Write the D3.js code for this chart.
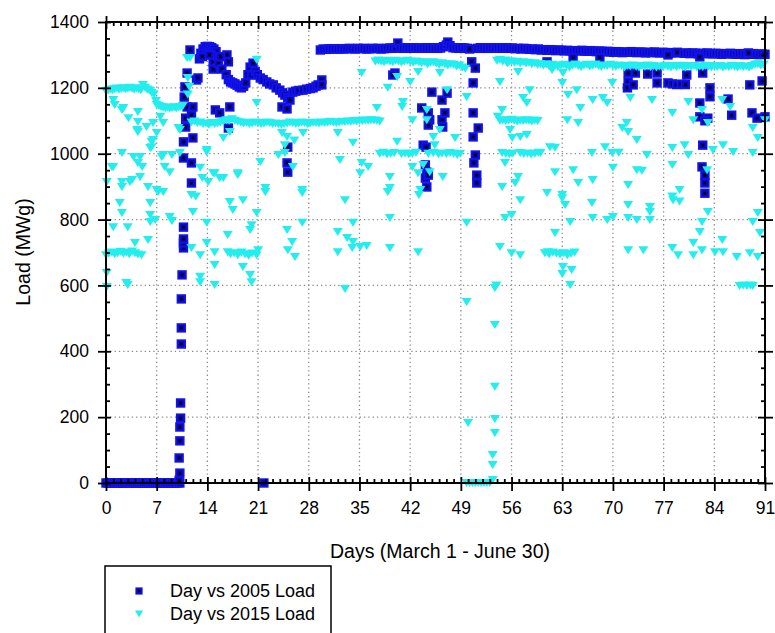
<!DOCTYPE html>
<html>
<head>
<meta charset="utf-8">
<script src="https://cdn.jsdelivr.net/npm/d3@7"></script>
<style>
  body { margin: 0; background: #fff; }
  text { font-family: Arial, "Liberation Sans", sans-serif; }
</style>
</head>
<body>
<div id="chart"></div>
<script>
const W = 775, H = 633;

// axis ticks
const xTicks = [0, 7, 14, 21, 28, 35, 42, 49, 56, 63, 70, 77, 84, 91];
const yTicks = [0, 200, 400, 600, 800, 1000, 1200, 1400];
const seriesNames = ["Day vs 2005 Load", "Day vs 2015 Load"];

// [day, load MWg]
const pts2005 = [
  [0,0],[0.3,0],[0.6,0],[0.9,0],[1.2,0],[1.5,0],[1.8,0],[2.1,0],[2.4,0],[2.7,0],[3,0],[3.3,0],[3.6,0],[3.9,0],
  [4.2,0],[4.5,0],[4.8,0],[5.1,0],[5.4,0],[5.7,0],[6,0],[6.3,0],[6.6,0],[6.9,0],[7.2,0],[7.5,0],[7.8,0],[8.1,0],
  [8.4,0],[8.7,0],[9,0],[9.3,0],[9.6,0],[9.9,0],[10.2,0],[10.1,8],[10.2,30],[10.1,76],[10.2,128],[10.2,170],
  [10.3,197],[10.3,243],[10.4,422],[10.4,471],[10.4,559],[10.5,632],[10.7,714],[10.7,729],[10.7,741],[10.7,777],
  [21.8,0],
  [10.7,1036],[10.7,987],[10.8,1172],[10.9,1203],[11,1108],[11,1081],[11.2,1142],[11.2,1245],[11.6,1315],
  [11.8,1117],[11.8,972],[11.8,911],[12,1142],[12,1048],[12.5,1224],[12.9,1288],[12.7,1230],
  [13.1,1305],[13.4,1318],[13.7,1325],[14,1326],[14.3,1325],[14.6,1322],[14.9,1318],[15.2,1310],[13.3,1295],
  [14.6,1300],[14.8,1279],[14.8,1257],[15.5,1275],[16,1257],[16.7,1300],[16.9,1279],[15.1,1133],[15.7,1124],
  [17.1,1142],[16.9,1078],[14.3,1300],[15.8,1295],
  [16.6,1240],[16.9,1225],[17.2,1218],[17.5,1215],[17.8,1212],[18.1,1208],[18.4,1203],[18.7,1200],[19,1205],
  [19.3,1215],[19.6,1240],[19.9,1263],[20.1,1239],[20.3,1275],[20.6,1250],[20.9,1240],[21.3,1230],[21.7,1225],
  [22.2,1218],[22.6,1212],[23.1,1209],[23.5,1200],[24,1193],[24.4,1185],[24.7,1178],[25.1,1170],[25.4,1163],
  [25.8,1187],[26.2,1190],[26.6,1192],[27.2,1193],[27.7,1196],[28.2,1198],[28.6,1200],[29,1205],[29.3,1209],
  [24.3,1142],[25,1136],[25.1,1020],[25,972],[25.1,944],
  [29.6,1315],[30,1318],[30.4,1317],[30.8,1318],[31.2,1319],[31.6,1318],[32,1318],[32.4,1319],[32.8,1318],
  [33.2,1319],[33.6,1320],[34,1319],[34.4,1318],[34.8,1320],[35.2,1319],[35.6,1320],[36,1318],[36.4,1319],
  [36.8,1320],[37.2,1319],[37.6,1320],[38,1318],[38.4,1319],[38.8,1320],[39.2,1321],[39.6,1320],[40,1322],
  [40.3,1336],[40.6,1321],[41,1320],[41.4,1322],[41.8,1321],[42.2,1320],[42.6,1322],[43,1321],[43.4,1320],
  [43.8,1321],[44.2,1322],[44.6,1320],[45,1321],[45.4,1322],[45.8,1320],[46.2,1321],[46.6,1325],[47,1330],
  [47.2,1339],[47.5,1328],[47.9,1322],[48.3,1321],[48.7,1320],[49.1,1322],[49.5,1321],[49.9,1320],[50.2,1318],
  [51.3,1320],[51.7,1322],[52.1,1321],[52.5,1320],[52.9,1322],[53.3,1321],[53.7,1320],[54.1,1322],[54.5,1321],
  [54.9,1320],[55.3,1322],[55.7,1320],[56.1,1321],[56.5,1319],[56.9,1320],[57.3,1318],[57.7,1320],[58.1,1319],
  [58.5,1317],[58.9,1318],[59.3,1316],[59.7,1318],[60.1,1315],[60.5,1316],[60.9,1314],[61.3,1316],[61.7,1315],
  [62.1,1313],[62.5,1315],[62.9,1314],[63.3,1312],[63.7,1314],[64.1,1313],[64.5,1311],[64.9,1313],[65.3,1312],
  [65.7,1314],[66.1,1312],[66.5,1311],[66.9,1313],[67.3,1312],[67.7,1310],[68.1,1312],[68.5,1311],[68.9,1309],
  [69.3,1311],[69.7,1310],[70.1,1308],[70.5,1310],[70.9,1309],[71.3,1307],[71.7,1309],[72.1,1308],[72.5,1310],
  [72.9,1308],[73.3,1307],[73.7,1309],[74.1,1308],[74.5,1306],[74.9,1308],[75.3,1307],[75.7,1309],[76.1,1307],
  [76.5,1306],[76.9,1308],[77.3,1307],[77.7,1305],[78.1,1307],[78.5,1306],[78.9,1308],
  [79.8,1305],[80.2,1306],[80.6,1304],[81,1306],[81.4,1305],[81.8,1303],[82.2,1305],[82.6,1304],[83,1306],
  [83.4,1304],[83.8,1303],[84.2,1305],[84.6,1304],[85,1302],[85.4,1304],[85.8,1303],[86.2,1305],[86.6,1303],
  [87,1302],[87.4,1304],[87.8,1303],[88.2,1301],[88.6,1303],[89,1302],[89.4,1304],[89.8,1302],[90.2,1301],
  [90.6,1303],[91,1302],
  [29.8,1224],[29.8,1209],[39.9,1245],[39.6,1239],[45,1187],[46.4,1163],[47.1,1184],[43.6,1139],[44.5,1124],
  [44.7,1103],[44.5,1087],[46.4,1103],[46.5,1081],[46.8,1124],[43.8,1026],[44.2,1020],[44.1,966],[44.3,944],
  [44.1,926],[44.3,899],[44.5,935],[50.5,1279],[51,1260],[50.7,1215],[50.7,1124],[51.4,1078],[50.7,1051],
  [51,996],[50.8,972],[51.2,935],[51.2,911],[60.9,1279],[64.5,1291],[68.2,1291],[72.1,1245],[73.1,1245],
  [72.1,1218],[72,1200],[72.8,1209],[74.8,1242],[76.1,1245],[76.1,1215],[77.6,1215],[78.2,1212],[78.8,1210],
  [79.4,1211],[80,1210],[80.2,1239],[82.4,1245],[83.4,1200],[83.4,1173],[82,1154],[82,1112],[83.1,1108],
  [82.7,1100],[85.9,1166],[86.4,1117],[82.4,1026],[82.3,960],[82.7,935],[82.7,911],[82.7,880],[88.9,1209],
  [90.6,1221],[89.2,1124],[89.9,1108],[91,1112],[77.6,1300],[82,1294],[88.7,1306]
];

const pts2015 = [
  [0,1190],[0.3,1192],[0.6,1195],[0.9,1193],[1.2,1196],[1.5,1198],[1.8,1195],[2.1,1197],[2.4,1199],[2.7,1196],
  [3,1198],[3.3,1200],[3.6,1197],[3.9,1195],[4.2,1199],[4.5,1196],[4.8,1193],[5.1,1209],[5.4,1200],[5.7,1195],
  [6,1192],[6.3,1185],[6.6,1180],[6.9,1160],
  [7,1148],[7.3,1145],[7.6,1142],[7.9,1140],[8.2,1138],[8.5,1140],[8.8,1137],[9.1,1139],[9.4,1141],[9.7,1138],
  [10,1140],[10.3,1142],[10.6,1145],
  [1.2,1148],[2.2,1133],[3.1,1108],[4.4,1096],[4.4,1066],[5.6,1081],[6.5,1093],[7,1063],[7.9,1093],[10,1078],
  [10.2,1072],[6.3,1036],[6.3,1020],[2.2,1002],[3.8,990],[4.4,972],[7.9,996],[9.1,996],[10.2,1002],[8.1,960],
  [8.8,944],[0.8,960],[0.1,914],[2.2,914],[3.6,920],[4.7,929],[5.8,899],[7.2,884],[7.9,884],[1,1163],[2.4,1139],
  [4.4,1127],[7.5,1112],[4.3,1072],[6.5,1042],[6.1,1017],[7.7,990],[4.7,990],[5,960],[3.3,914],[2.2,899],[7,890],
  [1,960],
  [1.9,850],[2.2,820],[6.1,850],[6.1,814],[6.8,799],[6.1,793],[8.8,808],[9.1,796],[1,777],[3,777],[4,729],
  [5.8,738],[0,692],[0.1,638],[0.1,595],[3,601],[2.8,607],[0.4,697],[0.8,700],[1.2,695],[1.6,698],[2,702],
  [2.4,697],[2.8,700],[3.2,695],[3.6,703],[4,698],[4.4,694],[4.9,692],
  [11.2,1291],[11.6,1291],[11.3,1230],[11.5,1203],[11.3,1180],[11.8,875],[12,823],[11.8,714],[13,692],[13,626],
  [13,610],[12.4,870],
  [11.8,1095],[12.2,1098],[12.6,1093],[13,1095],[13.4,1090],[13.8,1092],[14.2,1088],[14.6,1093],[15,1090],
  [15.4,1092],[15.8,1095],[16.2,1098],[16.6,1102],[17,1100],[17.4,1105],[17.8,1100],[18.2,1097],[18.6,1095],
  [19,1092],[19.4,1094],[19.8,1090],[20.2,1092],[20.6,1095],[21,1093],[21.4,1090],[21.8,1092],[22.2,1095],
  [22.6,1093],[23,1090],[23.4,1092],[23.8,1090],[24.2,1088],[24.6,1090],[25,1092],[25.4,1095],[25.8,1093],
  [26.2,1090],[26.6,1092],[27,1095],[27.4,1093],[27.8,1090],[28.2,1092],[28.6,1094],[29,1093],[29.4,1092],
  [29.8,1095],[30.2,1093],[30.6,1095],[31,1097],[31.4,1095],[31.8,1093],[32.2,1095],[32.6,1097],[33,1096],
  [33.4,1098],[33.8,1097],[34.2,1099],[34.6,1098],[35,1100],[35.4,1099],[35.8,1101],[36.2,1100],[36.6,1102],
  [37,1101],[37.4,1100],[37.8,1098],
  [13.9,1005],[13.3,926],[14.1,914],[14.8,941],[15.7,926],[16.2,1048],[17.1,1066],[18.2,941],[13,957],[13.9,1011],
  [15,941],[16.2,926],[18.2,935],[21.3,975],[20.8,1285],[20.8,1154],[24.3,1063],[25,1051],[24.7,1026],[27.2,1063],
  [27.1,890],[22,896],[24.7,1002],[23.8,996],[25.8,960],[26,1040],
  [13.9,790],[16.8,753],[13.9,729],[15,701],[15,662],[15,601],[16.8,701],[17.2,695],[17.7,698],[18.2,692],
  [18.7,700],[19.2,695],[19.7,690],[20.2,697],[20.8,692],[21,707],[18.9,656],[19.9,632],[20.1,610],[19.9,768],
  [20.1,783],[20.8,820],[18.9,859],[17.5,829],[17.1,853],[25,768],[25.7,732],[26.1,686],[25.1,707],[27.1,790],
  [27.1,881],[22,884],
  [32,1063],[34.1,1033],[35.3,972],[36.2,960],[32.3,981],[35.1,941],[33,859],[34.1,790],[32,762],[33.3,744],
  [34.1,732],[32,701],[34,714],[35.1,717],[36,720],[33,589],[35.3,1245],[37.4,1139],
  [37.2,1280],[37.6,1283],[38,1280],[38.4,1278],[38.8,1282],[39.2,1280],[39.6,1278],[40,1282],[40.4,1280],
  [40.8,1277],[41.2,1280],[41.6,1282],[42,1279],[42.4,1276],[42.8,1280],[43.2,1278],[43.6,1275],[44,1278],
  [44.4,1272],[44.8,1276],[45.2,1278],[45.6,1274],[46,1270],[46.4,1275],[46.8,1272],[47.2,1268],[47.6,1272],
  [48,1270],[48.4,1265],[48.8,1268],[49.2,1262],[49.6,1258],
  [38.9,1200],[40.2,1233],[42,1218],[43.1,1248],[41,1157],[40.9,1142],[40.2,1036],[42.3,960],[42.3,1102],
  [44.3,1133],[44.3,1102],[45.2,1051],[46.1,1072],[45.4,1026],[45.2,1002],[48.2,1048],[49.8,1172],[47.1,1193],
  [46.1,1245],[43.1,941],[43.4,890],[46.5,929],[43.8,966],[44.7,944],[39.2,929],[39.2,896],[38.9,884],[43.2,875],
  [39.2,805],[43.1,701],[39.2,714],[49.8,790],[49.8,550],[50,182],
  [37.8,1000],[38.3,1003],[38.8,998],[39.3,1000],[39.8,1002],[40.8,999],[41.3,1001],[41.8,998],[42.3,1000],
  [42.8,1003],[44.5,1000],[45.9,998],[46.4,1001],[47,999],[47.5,1002],[48,1000],[48.5,996],[48.9,1000],
  [49.8,0],[50.2,0],[50.6,0],[51,0],[51.4,0],[51.8,0],[52.2,0],[52.6,0],[53,0],[53.4,9],[53.4,55],[53.4,85],
  [53.7,152],[53.7,194],[53.7,292],[53.7,480],[53.7,592],[53.9,600],
  [54,1282],[54.4,1285],[54.8,1280],[55.2,1283],[55.6,1278],[56,1280],[56.4,1276],[56.8,1279],[57.2,1275],
  [57.6,1278],[58,1274],[58.4,1276],[58.8,1272],[59.2,1275],[59.6,1270],[60,1272],
  [55.4,1275],[54.4,1218],[56.9,1248],[58.5,1193],[57.6,1169],[58.1,1154],[54.1,1112],[54.7,1133],
  [54.4,1100],[54.8,1102],[55.2,1099],[55.6,1101],[56,1103],[56.4,1100],[56.8,1098],[57.2,1101],[57.6,1099],
  [58,1102],[58.4,1100],[58.8,1098],[59.2,1101],[59.6,1099],[55.8,1072],[57.2,1051],[58.1,1057],[56.1,1048],
  [54.7,1002],[55.2,1000],[55.7,998],[56.2,1001],[57.2,1002],[57.7,999],[58.2,1001],[58.7,998],[59.2,1000],
  [59.7,1003],[55.1,972],[56.9,929],[56.5,911],[54.7,899],[54.4,717],[55.1,805],[56,814],[56,698],[57.2,692],
  [57.2,859],
  [60.4,1268],[60.8,1272],[61.2,1265],[61.6,1270],[62,1267],[62.4,1263],[62.8,1268],[63.2,1270],[63.6,1266],
  [64,1262],[64.4,1268],[64.8,1271],[65.2,1266],[65.6,1263],[66,1268],[66.4,1270],[66.8,1265],[67.2,1268],
  [67.6,1271],[68,1266],[68.4,1263],[68.8,1268],[69.2,1266],[69.6,1270],[70,1267],[70.4,1264],[70.8,1268],
  [71.2,1266],[71.6,1262],[72,1267],[72.4,1265],[72.8,1268],[73.2,1264],[73.6,1262],[74,1266],[74.4,1264],
  [74.8,1268],[75.2,1263],[75.6,1266],[76,1262],[76.4,1265],[76.8,1263],[77.2,1267],[77.6,1264],[78,1262],
  [78.4,1266],[78.8,1263],[79.2,1267],[79.6,1264],[80,1262],[80.4,1266],[80.8,1263],[81.2,1266],[81.6,1262],
  [82,1265],[82.4,1263],[82.8,1267],[83.2,1264],[83.6,1262],[84,1266],[84.4,1263],[84.8,1266],[85.2,1262],
  [85.6,1265],[86,1263],[86.4,1267],[86.8,1264],[87.2,1262],[87.6,1266],[88,1263],[88.4,1265],[88.8,1262],
  [89.2,1266],[89.6,1270],[90,1272],[90.4,1268],[90.8,1270],
  [61.6,1254],[63.1,1245],[63,1215],[65,1193],[63.8,1178],[67.2,1163],[68.6,1169],[69.2,1154],[65.5,1139],
  [63.7,1102],[65.2,1093],[69.9,1215],[72.4,1169],[75.4,1163],[78.2,1124],[80.4,1157],[81.1,1102],[82.3,1133],
  [83.1,1093],[85.1,1163],[86.2,1142],[89.3,1078],[90,1048],[91,1102],[61.3,1020],[62,1018],[60,1002],
  [67.1,1002],[68.9,1020],[69.9,1002],[70.8,1003],[71.9,1093],[72.1,1066],[71.3,1078],[73.3,1042],[74.7,996],
  [78.2,1017],[79.9,1026],[80.4,996],[83,950],[83.8,1011],[85.2,1026],[86.6,1005],[89.3,1002],[62,944],
  [64.5,950],[65.2,911],[67.2,920],[70,957],[73.3,950],[74,948],[72.1,905],[78.2,966],[79.2,890],[63,875],
  [78.2,870],[60.9,881],[63,865],[63.4,844],[67.1,850],[72.1,844],[75.1,838],[75.1,823],[78.3,859],[79.2,855],
  [83.1,823],[90,820],[64.1,793],[67.2,805],[69.2,799],[70,808],[72.1,805],[73.3,799],[75.1,799],[82.3,793],
  [89.3,793],[62,759],[82,762],[90.3,759],[61,701],
  [60.6,698],[61.2,695],[61.7,700],[62.2,697],[62.7,694],[63.2,698],[63.7,692],[64.2,696],[64.7,700],
  [63.1,656],[64.3,647],[64.1,601],[63,635],[72.1,707],[74.2,707],[78.2,714],[79,692],[81.1,692],[81.1,729],
  [82.3,707],[84.1,701],[85.1,738],[85.2,701],[87.1,686],[88.9,698],[90,686],[87.5,598],[88,600],[88.5,598],
  [89,600],[89.3,598]
];

const svg = d3.select("#chart").append("svg")
  .attr("width", W)
  .attr("height", H);

const mLeft = 106, mRight = 765, mTop = 22, mBottom = 483;

const x = d3.scaleLinear().domain([0, 91]).range([mLeft, mRight]);
const y = d3.scaleLinear().domain([0, 1400]).range([mBottom, mTop]);

const xMinor = d3.range(0, 92).filter(d => d % 7 !== 0);
const yMinor = d3.range(0, 1401, 50).filter(d => d % 200 !== 0);

// dotted grid
svg.append("g")
  .selectAll("line")
  .data(xTicks.slice(1, -1))
  .join("line")
  .attr("x1", d => x(d)).attr("x2", d => x(d))
  .attr("y1", mTop).attr("y2", mBottom)
  .attr("stroke", "#8a8a8a").attr("stroke-width", 1.3)
  .attr("stroke-dasharray", "1.3,3");

svg.append("g")
  .selectAll("line")
  .data(yTicks.slice(1, -1))
  .join("line")
  .attr("x1", mLeft).attr("x2", mRight)
  .attr("y1", d => y(d)).attr("y2", d => y(d))
  .attr("stroke", "#8a8a8a").attr("stroke-width", 1.3)
  .attr("stroke-dasharray", "1.3,3");

// 2005 squares: each drawn whole (body + dark centre) so later ones cover earlier centres
const sq = svg.append("g")
  .selectAll("g")
  .data(pts2005)
  .join("g")
  .attr("transform", d => `translate(${x(d[0])},${y(d[1])})`);
sq.append("rect")
  .attr("x", -3.8).attr("y", -3.8)
  .attr("width", 7.6).attr("height", 7.6)
  .attr("fill", "#0a0aa8")
  .attr("stroke", "#1212f0")
  .attr("stroke-width", 1.8);
sq.append("rect")
  .attr("x", -1.3).attr("y", -1.3)
  .attr("width", 2.6).attr("height", 2.6)
  .attr("fill", "#000");

// 2015 triangles
const tri = "M-5,-4L5,-4L0,4Z";
svg.append("g")
  .selectAll("path")
  .data(pts2015)
  .join("path")
  .attr("d", tri)
  .attr("transform", d => `translate(${x(d[0])},${y(d[1])})`)
  .attr("fill", "#22eeee");

// axes
const fontSize = 17.5;
function styleAxis(g) {
  g.select(".domain").remove();
  g.selectAll(".tick line").attr("stroke", "#000").attr("stroke-width", 1.8);
  g.selectAll(".tick text").attr("font-size", fontSize).attr("fill", "#000")
    .attr("font-family", "Arial, 'Liberation Sans', sans-serif");
}

// bottom
svg.append("g")
  .attr("transform", `translate(0,${mBottom})`)
  .call(d3.axisBottom(x).tickValues(xTicks).tickSize(8).tickPadding(11))
  .call(styleAxis)
  .call(g => g.selectAll(".tick line").attr("y1", -6));
svg.append("g")
  .attr("transform", `translate(0,${mBottom})`)
  .call(d3.axisBottom(x).tickValues(xMinor).tickSize(-4).tickFormat(""))
  .call(styleAxis);

// top
svg.append("g")
  .attr("transform", `translate(0,${mTop})`)
  .call(d3.axisTop(x).tickValues(xTicks).tickSize(6).tickFormat(""))
  .call(styleAxis)
  .call(g => g.selectAll(".tick line").attr("y1", 7));
svg.append("g")
  .attr("transform", `translate(0,${mTop})`)
  .call(d3.axisTop(x).tickValues(xMinor).tickSize(-4).tickFormat(""))
  .call(styleAxis);

// left
svg.append("g")
  .attr("transform", `translate(${mLeft},0)`)
  .call(d3.axisLeft(y).tickValues(yTicks).tickSize(8).tickPadding(9).tickFormat(d3.format("d")))
  .call(styleAxis)
  .call(g => g.selectAll(".tick line").attr("x1", 5));
svg.append("g")
  .attr("transform", `translate(${mLeft},0)`)
  .call(d3.axisLeft(y).tickValues(yMinor).tickSize(-4).tickFormat(""))
  .call(styleAxis);

// right
svg.append("g")
  .attr("transform", `translate(${mRight},0)`)
  .call(d3.axisRight(y).tickValues(yTicks).tickSize(8).tickFormat(""))
  .call(styleAxis)
  .call(g => g.selectAll(".tick line").attr("x1", -7));
svg.append("g")
  .attr("transform", `translate(${mRight},0)`)
  .call(d3.axisRight(y).tickValues(yMinor).tickSize(-4).tickFormat(""))
  .call(styleAxis);

// frame
svg.append("rect")
  .attr("x", mLeft).attr("y", mTop)
  .attr("width", mRight - mLeft).attr("height", mBottom - mTop)
  .attr("fill", "none").attr("stroke", "#000").attr("stroke-width", 2);

// titles
svg.append("text")
  .attr("x", 440).attr("y", 558)
  .attr("text-anchor", "middle")
  .attr("font-size", 19.5)
  .text("Days (March 1 - June 30)");

svg.append("text")
  .attr("transform", "translate(30,252) rotate(-90)")
  .attr("text-anchor", "middle")
  .attr("font-size", 19.5)
  .text("Load (MWg)");

// legend
const lg = svg.append("g");
lg.append("rect")
  .attr("x", 105).attr("y", 566)
  .attr("width", 226).attr("height", 80)
  .attr("fill", "#fff").attr("stroke", "#000").attr("stroke-width", 1.5);

lg.append("rect")
  .attr("x", 136).attr("y", 588).attr("width", 6).attr("height", 6)
  .attr("fill", "#0a0aa8").attr("stroke", "#1212f0").attr("stroke-width", 1.2);
lg.append("rect")
  .attr("x", 138.1).attr("y", 590.1).attr("width", 1.8).attr("height", 1.8)
  .attr("fill", "#000");
lg.append("path")
  .attr("d", "M-4,-3.5L4,-3.5L0,3.5Z")
  .attr("transform", "translate(139,614)")
  .attr("fill", "#22eeee");

lg.selectAll("text")
  .data(seriesNames)
  .join("text")
  .attr("x", 170)
  .attr("y", (d, i) => 597 + i * 23)
  .attr("font-size", 18)
  .text(d => d);
</script>
</body>
</html>
